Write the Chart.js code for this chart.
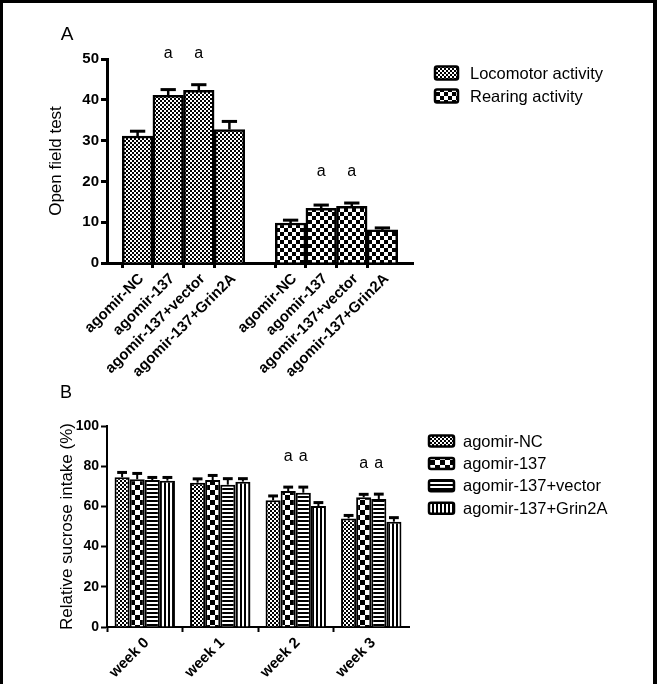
<!DOCTYPE html>
<html>
<head>
<meta charset="utf-8">
<script src="https://cdn.jsdelivr.net/npm/chart.js@4.4.1/dist/chart.umd.min.js"></script>
<style>
  html, body { margin: 0; padding: 0; background: #fff; }
  #page { position: relative; width: 657px; height: 684px; overflow: hidden; background: #fff; }
  #frame {
    position: absolute; left: 0; top: 0; width: 657px; height: 684px; box-sizing: border-box;
    border-left: 3px solid #000; border-top: 3px solid #000; border-right: 4px solid #000;
  }
  canvas { position: absolute; left: 0; }
  #chartA { top: 0; }
  #chartB { top: 380px; }
</style>
</head>
<body>
<div id="page">
  <div id="frame"></div>
  <canvas id="chartA" width="657" height="395"></canvas>
  <canvas id="chartB" width="657" height="304"></canvas>
</div>
<script>
// panel A - open field test
const groupsA = ['agomir-NC', 'agomir-137', 'agomir-137+vector', 'agomir-137+Grin2A'];
const locomotor = [31.1, 41.1, 42.3, 32.7];
const locomotorErr = [1.2, 1.4, 1.4, 2.0];
const locomotorSig = ['', 'a', 'a', ''];
const rearing = [9.8, 13.4, 13.9, 8.1];
const rearingErr = [0.7, 0.8, 0.8, 0.5];
const rearingSig = ['', 'a', 'a', ''];
const ticksA = [0, 10, 20, 30, 40, 50];

// panel B - sucrose preference
const weeks = ['week 0', 'week 1', 'week 2', 'week 3'];
const agomirNC = [74.5, 71.8, 63.0, 54.0];
const agomirNCErr = [2.4, 1.9, 2.2, 1.5];
const agomir137 = [73.5, 73.1, 67.6, 64.5];
const agomir137Err = [2.9, 2.3, 2.0, 1.5];
const agomirVector = [73.1, 70.8, 66.8, 63.7];
const agomirVectorErr = [1.3, 3.0, 2.8, 2.4];
const agomirGrin2A = [72.8, 72.3, 60.2, 52.4];
const agomirGrin2AErr = [1.6, 1.5, 1.7, 2.0];
const sig137 = ['', '', 'a', 'a'];
const sigVector = ['', '', 'a', 'a'];
const ticksB = [0, 20, 40, 60, 80, 100];

const FONT = "'Liberation Sans', Arial, sans-serif";
Chart.defaults.font.family = FONT;
Chart.defaults.color = '#000';

function makePattern(canvas, kind) {
  const tile = document.createElement('canvas');
  const size = { fine: 4, coarse: 8, coarseB: 10, hstripe: 4, vstripe: 4 }[kind];
  tile.width = size; tile.height = size;
  const t = tile.getContext('2d');
  t.fillStyle = '#fff';
  t.fillRect(0, 0, size, size);
  t.fillStyle = '#000';
  if (kind === 'hstripe') {
    t.fillRect(0, 0, size, 2);
  } else if (kind === 'vstripe') {
    t.fillRect(0, 0, 2, size);
  } else {
    const h = size / 2;
    t.fillRect(0, 0, h, h);
    t.fillRect(h, h, h, h);
  }
  return canvas.getContext('2d').createPattern(tile, 'repeat');
}

const errorBars = {
  id: 'errorBars',
  afterDatasetsDraw(chart, args, opts) {
    const { ctx } = chart;
    const y = chart.scales.y;
    ctx.save();
    ctx.strokeStyle = '#000';
    chart.data.datasets.forEach((ds, di) => {
      const meta = chart.getDatasetMeta(di);
      meta.data.forEach((bar, i) => {
        const v = ds.data[i];
        const e = ds.errors ? ds.errors[i] : null;
        if (v == null || e == null) return;
        const p = bar.getProps(['x', 'y', 'width'], true);
        const top = y.getPixelForValue(v + e);
        const half = p.width * opts.capRatio / 2;
        ctx.lineWidth = opts.stemWidth;
        ctx.beginPath();
        ctx.moveTo(p.x, p.y);
        ctx.lineTo(p.x, top);
        ctx.stroke();
        ctx.lineWidth = opts.capWidth;
        ctx.beginPath();
        ctx.moveTo(p.x - half, top);
        ctx.lineTo(p.x + half, top);
        ctx.stroke();
      });
    });
    ctx.restore();
  }
};

// letters over bars, one height per group (dataset or category)
const sigMarks = {
  id: 'sigMarks',
  afterDatasetsDraw(chart, args, opts) {
    const { ctx } = chart;
    const y = chart.scales.y;
    const tops = {};
    const marks = [];
    chart.data.datasets.forEach((ds, di) => {
      if (!ds.sig) return;
      const meta = chart.getDatasetMeta(di);
      ds.sig.forEach((s, i) => {
        if (!s) return;
        const key = opts.groupBy === 'index' ? i : di;
        const top = ds.data[i] + (ds.errors[i] || 0);
        tops[key] = Math.max(tops[key] || 0, top);
        marks.push({ text: s, x: meta.data[i].x, key });
      });
    });
    ctx.save();
    ctx.font = opts.size + 'px ' + FONT;
    ctx.fillStyle = '#000';
    ctx.textAlign = 'center';
    ctx.textBaseline = 'middle';
    marks.forEach(m => ctx.fillText(m.text, m.x, y.getPixelForValue(tops[m.key]) - opts.offset));
    ctx.restore();
  }
};

const boxLegend = {
  id: 'boxLegend',
  afterDraw(chart, args, opts) {
    const { ctx } = chart;
    ctx.save();
    ctx.font = opts.size + 'px ' + FONT;
    ctx.textAlign = 'left';
    ctx.textBaseline = 'middle';
    chart.data.datasets.forEach((ds, i) => {
      const cy = opts.y + i * opts.rowGap;
      ctx.beginPath();
      ctx.roundRect(opts.x, cy - opts.boxH / 2, opts.boxW, opts.boxH, 2);
      ctx.fillStyle = ds.backgroundColor;
      ctx.fill();
      ctx.lineWidth = 2.5;
      ctx.strokeStyle = '#000';
      ctx.stroke();
      ctx.fillStyle = '#000';
      ctx.fillText(ds.label, opts.x + opts.boxW + opts.gap, cy + 1);
    });
    ctx.restore();
  }
};

const panelLetter = {
  id: 'panelLetter',
  afterDraw(chart, args, opts) {
    const { ctx } = chart;
    ctx.save();
    ctx.font = opts.size + 'px ' + FONT;
    ctx.fillStyle = '#000';
    ctx.textAlign = 'center';
    ctx.textBaseline = 'middle';
    ctx.fillText(opts.text, opts.x, opts.y);
    ctx.restore();
  }
};

function axisY(ticks, titleText, titlePad, width, tickSize, lineW) {
  return {
    min: ticks[0],
    max: ticks[ticks.length - 1],
    afterBuildTicks: s => { s.ticks = ticks.map(v => ({ value: v })); },
    afterFit: s => { s.width = width; },
    border: { color: '#000', width: lineW },
    grid: { drawOnChartArea: false, tickLength: 6, tickColor: '#000', tickWidth: lineW },
    ticks: { font: { size: tickSize, weight: 'bold' }, color: '#000', padding: 2 },
    title: { display: true, text: titleText, font: { size: 17 }, color: '#000', padding: { top: titlePad, bottom: 0 } }
  };
}

function axisX(height, offset, labelOffset, lineW) {
  return {
    offset: offset,
    afterFit: s => { s.height = height; },
    border: { color: '#000', width: lineW },
    grid: {
      drawOnChartArea: false, tickLength: 5, tickWidth: lineW,
      tickColor: c => (c.tick && c.tick.label ? '#000' : 'rgba(0,0,0,0)')
    },
    ticks: {
      autoSkip: false, maxRotation: 45, minRotation: 45, padding: 2, labelOffset: labelOffset,
      font: { size: 15, weight: 'bold' }, color: '#000'
    }
  };
}

// ---- panel A ----
const canvasA = document.getElementById('chartA');
const blanksA = groupsA.map(() => null);
const slotsA = ['', ...groupsA, '', ...groupsA, ''];
const leftHalf = vals => [null, ...vals, null, ...blanksA, null];
const rightHalf = vals => [null, ...blanksA, null, ...vals, null];

new Chart(canvasA, {
  type: 'bar',
  data: {
    labels: slotsA,
    datasets: [
      {
        label: 'Locomotor activity',
        data: leftHalf(locomotor),
        errors: leftHalf(locomotorErr),
        sig: leftHalf(locomotorSig),
        backgroundColor: makePattern(canvasA, 'fine')
      },
      {
        label: 'Rearing activity',
        data: rightHalf(rearing),
        errors: rightHalf(rearingErr),
        sig: rightHalf(rearingSig),
        backgroundColor: makePattern(canvasA, 'coarse')
      }
    ]
  },
  options: {
    responsive: false,
    animation: false,
    layout: { padding: { left: 0, top: 59, right: 244, bottom: 0 } },
    datasets: {
      bar: {
        grouped: false, barPercentage: 1, categoryPercentage: 1,
        borderColor: '#000', borderWidth: 2.5, borderSkipped: 'start'
      }
    },
    scales: {
      x: axisX(395 - 263, false, 4, 3),
      y: axisY(ticksA, 'Open field test', 46, 107, 15, 3)
    },
    plugins: {
      legend: { display: false },
      tooltip: { enabled: false },
      errorBars: { capRatio: 0.5, stemWidth: 2.5, capWidth: 3 },
      sigMarks: { groupBy: 'dataset', offset: 31, size: 16 },
      boxLegend: { x: 435, y: 73, rowGap: 23, boxW: 23, boxH: 13, gap: 12, size: 16.5 },
      panelLetter: { text: 'A', x: 67, y: 35, size: 19 }
    }
  },
  plugins: [errorBars, sigMarks, boxLegend, panelLetter]
});

// ---- panel B ----
const canvasB = document.getElementById('chartB');

new Chart(canvasB, {
  type: 'bar',
  data: {
    labels: weeks,
    datasets: [
      { label: 'agomir-NC', data: agomirNC, errors: agomirNCErr, backgroundColor: makePattern(canvasB, 'fine') },
      { label: 'agomir-137', data: agomir137, errors: agomir137Err, sig: sig137, backgroundColor: makePattern(canvasB, 'coarseB') },
      { label: 'agomir-137+vector', data: agomirVector, errors: agomirVectorErr, sig: sigVector, backgroundColor: makePattern(canvasB, 'hstripe') },
      { label: 'agomir-137+Grin2A', data: agomirGrin2A, errors: agomirGrin2AErr, backgroundColor: makePattern(canvasB, 'vstripe') }
    ]
  },
  options: {
    responsive: false,
    animation: false,
    layout: { padding: { left: 0, top: 46, right: 248, bottom: 0 } },
    datasets: {
      bar: {
        barPercentage: 1, categoryPercentage: 0.8,
        borderColor: '#000', borderWidth: 2, borderSkipped: 'start'
      }
    },
    scales: {
      x: axisX(304 - 247, true, 2, 2),
      y: axisY(ticksB, 'Relative sucrose intake (%)', 57, 107, 14, 2)
    },
    plugins: {
      legend: { display: false },
      tooltip: { enabled: false },
      errorBars: { capRatio: 0.65, stemWidth: 2, capWidth: 3 },
      sigMarks: { groupBy: 'index', offset: 31, size: 16 },
      boxLegend: { x: 429, y: 61, rowGap: 22.4, boxW: 25, boxH: 11, gap: 9, size: 16.5 },
      panelLetter: { text: 'B', x: 66, y: 13, size: 18 }
    }
  },
  plugins: [errorBars, sigMarks, boxLegend, panelLetter]
});
</script>
</body>
</html>
